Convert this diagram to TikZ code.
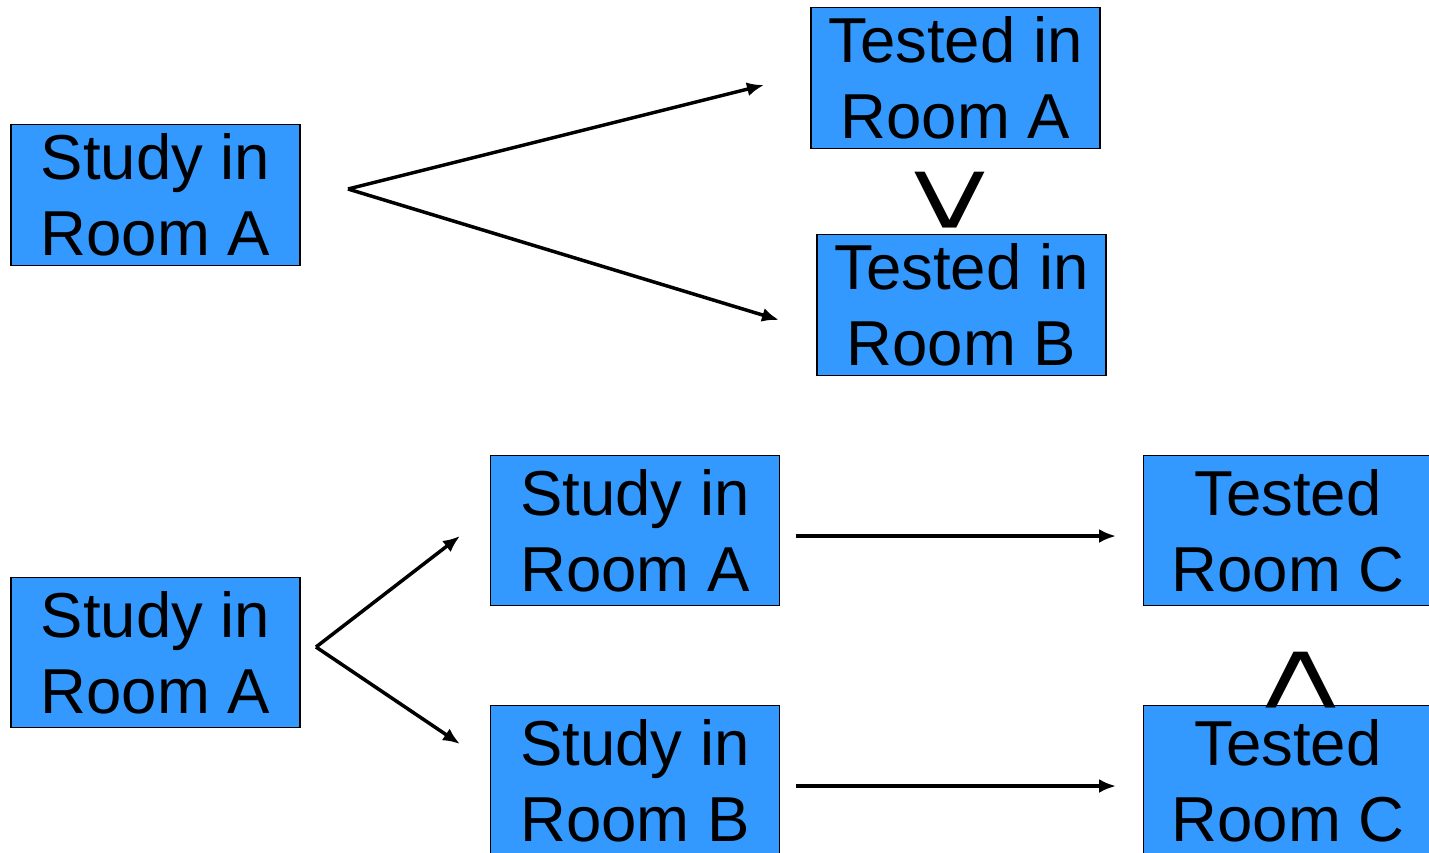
\documentclass[tikz,border=0pt]{standalone}
\usepackage{fontspec}
\setmainfont{Liberation Sans}
\usetikzlibrary{arrows.meta}
\definecolor{boxblue}{HTML}{3399FF}
\begin{document}
\begin{tikzpicture}[x=1pt,y=-1pt,
  box/.style={draw=black,line width=1.5pt,fill=boxblue,minimum width=289pt,minimum height=141pt,inner sep=0pt,align=center,font=\fontsize{63.5}{76}\selectfont},
  tallbox/.style={box,minimum height=150pt},
  conn/.style={line width=3.5pt,-{Latex[length=17pt,width=14pt]}},
  rel/.style={inner sep=0pt,font=\fontsize{115}{115}\selectfont}]
\useasboundingbox (0,0) rectangle (1429,852);
\clip (0,0) rectangle (1429,852);
\node[box] (b1) at (155.5,195) {Study in\\Room A};
\node[box] (b2) at (955.5,78) {Tested in\\Room A};
\node[box] (b3) at (961.5,305) {Tested in\\Room B};
\node[tallbox] (b4) at (155.5,652.5) {Study in\\Room A};
\node[tallbox] (b5) at (635,530.5) {Study in\\Room A};
\node[tallbox] (b6) at (635,780.5) {Study in\\Room B};
\node[tallbox] (b7) at (1288,530.5) {Tested\\Room C};
\node[tallbox] (b8) at (1288,780.5) {Tested\\Room C};
\node[rel,rotate=-90] (gt) at (945,200) {\scalebox{1}[1.2]{>}};
\node[rel,rotate=-90] (lt) at (1296,680) {\scalebox{1}[1.2]{<}};
\coordinate (s1) at (348,189);
\coordinate (e1) at (764,85);
\coordinate (e2) at (779,320);
\coordinate (s2) at (316,647);
\coordinate (e3) at (460,536);
\coordinate (e4) at (460,744);
\coordinate (h1) at (796,536);
\coordinate (h2) at (1116,536);
\coordinate (h3) at (796,786);
\coordinate (h4) at (1116,786);
\draw[conn] (s1) -- (e1);
\draw[conn] (s1) -- (e2);
\draw[conn] (s2) -- (e3);
\draw[conn] (s2) -- (e4);
\draw[conn] (h1) -- (h2);
\draw[conn] (h3) -- (h4);
\end{tikzpicture}
\end{document}
